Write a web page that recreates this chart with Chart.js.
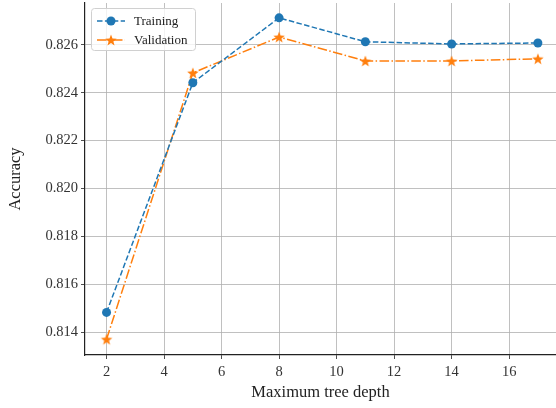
<!DOCTYPE html>
<html>
<head>
<meta charset="utf-8">
<script src="https://cdn.jsdelivr.net/npm/chart.js@4"></script>
<style>
  html, body { margin: 0; padding: 0; background: #fff; }
  #wrap { width: 556px; height: 408px; }
</style>
</head>
<body>
<div id="wrap"><canvas id="myChart" width="556" height="408"></canvas></div>
<script>
const depths = [2, 5, 8, 11, 14, 17];
const training = [0.81483, 0.82442, 0.82713, 0.82613, 0.82604, 0.82608];
const validation = [0.81371, 0.82483, 0.82633, 0.82533, 0.82533, 0.82542];
const xTicks = [2, 4, 6, 8, 10, 12, 14, 16];

const FONT = '"Liberation Serif", "DejaVu Serif", serif';
const BLUE = '#1f77b4';
const ORANGE = '#ff7f0e';

// filled 5-point star for the validation markers
function makeStar(color, r) {
    const c = document.createElement('canvas');
    const s = Math.ceil(r * 2 + 2);
    c.width = s; c.height = s;
    const g = c.getContext('2d');
    g.fillStyle = color;
    g.beginPath();
    for (let i = 0; i < 10; i++) {
        const rad = i % 2 === 0 ? r : r * 0.42;
        const a = -Math.PI / 2 + i * Math.PI / 5;
        const px = s / 2 + rad * Math.cos(a);
        const py = s / 2 + rad * Math.sin(a) + r * 0.1;
        if (i === 0) g.moveTo(px, py); else g.lineTo(px, py);
    }
    g.closePath();
    g.fill();
    return c;
}
const star = makeStar(ORANGE, 6);

const ctx = document.getElementById('myChart').getContext('2d');

const data = {
    datasets: [
        {
            label: 'Training',
            data: depths.map((d, i) => ({ x: d, y: training[i] })),
            borderColor: BLUE,
            backgroundColor: BLUE,
            borderWidth: 1.5,
            borderDash: [5.5, 2.4],
            pointStyle: 'circle',
            pointRadius: 4.5,
            pointBorderWidth: 0,
            fill: false
        },
        {
            label: 'Validation',
            data: depths.map((d, i) => ({ x: d, y: validation[i] })),
            borderColor: ORANGE,
            backgroundColor: ORANGE,
            borderWidth: 1.5,
            borderDash: [9.6, 2.4, 1.5, 2.4],
            pointStyle: star,
            pointRadius: 5,
            fill: false
        }
    ]
};

// legend drawn inside the plot, matplotlib style (line + marker)
const boxLegend = {
    id: 'boxLegend',
    afterDraw(chart) {
        const g = chart.ctx;
        const a = chart.chartArea;
        const x0 = a.left + 6, y0 = a.top + 5, w = 104, h = 42;
        g.save();
        g.fillStyle = 'rgba(255,255,255,0.8)';
        g.strokeStyle = '#d0d0d0';
        g.lineWidth = 1;
        g.beginPath();
        g.roundRect(x0 + 0.5, y0 + 0.5, w, h, 3);
        g.fill();
        g.stroke();
        g.font = '13px ' + FONT;
        g.textBaseline = 'middle';
        chart.data.datasets.forEach((ds, i) => {
            const ly = y0 + 13 + i * 19;
            g.strokeStyle = ds.borderColor;
            g.lineWidth = 1.5;
            g.setLineDash(ds.borderDash);
            g.beginPath();
            g.moveTo(x0 + 6, ly);
            g.lineTo(x0 + 34, ly);
            g.stroke();
            g.setLineDash([]);
            if (ds.pointStyle === 'circle') {
                g.fillStyle = ds.backgroundColor;
                g.beginPath();
                g.arc(x0 + 20, ly, 4.5, 0, Math.PI * 2);
                g.fill();
            } else {
                g.drawImage(ds.pointStyle, x0 + 20 - star.width / 2, ly - star.height / 2);
            }
            g.fillStyle = '#222';
            g.fillText(ds.label, x0 + 43, ly + 1);
        });
        g.restore();
    }
};

const options = {
    responsive: false,
    animation: false,
    layout: { autoPadding: false, padding: { top: 3, right: 0, left: 0, bottom: 0 } },
    scales: {
        x: {
            type: 'linear',
            min: 1.25,
            max: 17.63,
            afterBuildTicks: (axis) => { axis.ticks = xTicks.map(v => ({ value: v })); },
            afterFit: (axis) => {
                axis.height = 53;
                axis.paddingLeft = 0;
                axis.paddingRight = 0;
            },
            grid: { color: '#b0b0b0', lineWidth: 0.8, tickLength: 4, tickColor: '#222' },
            border: { color: '#222', width: 1.2 },
            ticks: { color: '#333', font: { family: FONT, size: 14.5 }, padding: 4, maxRotation: 0 },
            title: {
                display: true,
                text: 'Maximum tree depth',
                color: '#222',
                font: { family: FONT, size: 16.5 },
                padding: { top: 0, bottom: 5 }
            }
        },
        y: {
            type: 'linear',
            min: 0.81305,
            max: 0.82775,
            afterBuildTicks: (axis) => {
                const t = [];
                for (let v = 814; v <= 826; v += 2) t.push({ value: v / 1000 });
                axis.ticks = t;
            },
            afterFit: (axis) => {
                axis.width = 85;
                axis.paddingTop = 0;
                axis.paddingBottom = 0;
            },
            grid: { color: '#b0b0b0', lineWidth: 0.8, tickLength: 4, tickColor: '#222' },
            border: { color: '#222', width: 1.2 },
            ticks: {
                color: '#333',
                font: { family: FONT, size: 14.5 },
                padding: 3,
                callback: (v) => v.toFixed(3)
            },
            title: {
                display: true,
                text: 'Accuracy',
                color: '#222',
                font: { family: FONT, size: 16.5 },
                padding: { top: 6, bottom: 2 }
            }
        }
    },
    plugins: {
        legend: { display: false },
        tooltip: { enabled: false }
    }
};

new Chart(ctx, {
    type: 'line',
    data: data,
    options: options,
    plugins: [boxLegend]
});
</script>
</body>
</html>
